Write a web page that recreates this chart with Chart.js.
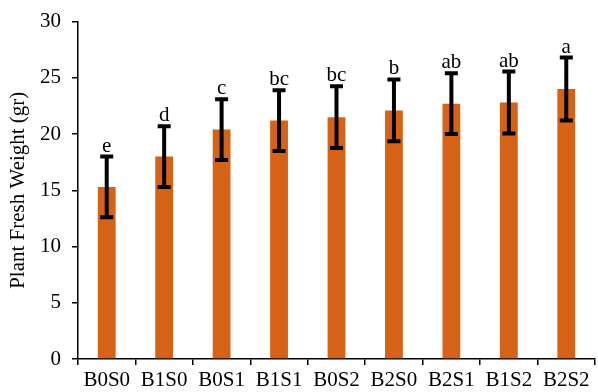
<!DOCTYPE html>
<html>
<head>
<meta charset="utf-8">
<script src="https://cdn.jsdelivr.net/npm/chart.js@4"></script>
<style>
  html, body { margin: 0; padding: 0; background: #fff; }
  #wrap { width: 598px; height: 392px; }
</style>
</head>
<body>
<div id="wrap"><canvas id="myChart" width="598" height="392"></canvas></div>
<script>
const categories = ["B0S0", "B1S0", "B0S1", "B1S1", "B0S2", "B2S0", "B2S1", "B1S2", "B2S2"];
const means = [15.3, 18.0, 20.4, 21.2, 21.5, 22.1, 22.7, 22.8, 24.0];
const errors = [2.7, 2.7, 2.7, 2.7, 2.75, 2.75, 2.7, 2.75, 2.8];
const letters = ["e", "d", "c", "bc", "bc", "b", "ab", "ab", "a"];
const yTicks = [0, 5, 10, 15, 20, 25, 30];

const serif = "'Liberation Serif', 'Times New Roman', serif";

// draws the SE bars and the significance letters on top of the bars
const errorBarPlugin = {
  id: "errorBars",
  afterDatasetsDraw(chart) {
    const ctx = chart.ctx;
    const x = chart.scales.x;
    const y = chart.scales.y;
    ctx.save();
    ctx.strokeStyle = "#000";
    ctx.lineWidth = 4;
    ctx.lineCap = "butt";
    means.forEach((m, i) => {
      const cx = x.getPixelForValue(i);
      const top = y.getPixelForValue(m + errors[i]);
      const bot = y.getPixelForValue(m - errors[i]);
      ctx.beginPath();
      ctx.moveTo(cx, top);
      ctx.lineTo(cx, bot);
      ctx.moveTo(cx - 6.5, top);
      ctx.lineTo(cx + 6.5, top);
      ctx.moveTo(cx - 6.5, bot);
      ctx.lineTo(cx + 6.5, bot);
      ctx.stroke();

      ctx.fillStyle = "#000";
      ctx.font = "21px " + serif;
      ctx.textAlign = "center";
      ctx.textBaseline = "alphabetic";
      ctx.fillText(letters[i], cx, top - 5);
    });
    ctx.restore();
  },
};

const ctx = document.getElementById("myChart").getContext("2d");
const myChart = new Chart(ctx, {
  type: "bar",
  data: {
    labels: categories,
    datasets: [
      {
        data: means,
        backgroundColor: "#D66217",
        borderWidth: 0,
        barPercentage: 0.62,
        categoryPercentage: 0.5,
      },
    ],
  },
  options: {
    responsive: false,
    animation: false,
    devicePixelRatio: 1,
    layout: { padding: { top: 21, right: 3, left: 0, bottom: 0 } },
    plugins: {
      legend: { display: false },
      tooltip: { enabled: false },
    },
    scales: {
      x: {
        grid: {
          display: true,
          drawOnChartArea: false,
          drawTicks: true,
          tickLength: 6,
          offset: true,
          color: "#000",
          lineWidth: 1.5,
        },
        border: { display: true, color: "#000", width: 1.5 },
        ticks: {
          color: "#000",
          font: { family: serif, size: 21 },
          padding: 3,
          maxRotation: 0,
          autoSkip: false,
        },
        afterFit(scale) {
          scale.height = 33;
        },
      },
      y: {
        min: 0,
        max: 30,
        afterBuildTicks(scale) {
          scale.ticks = yTicks.map((v) => ({ value: v }));
        },
        grid: {
          display: true,
          drawOnChartArea: false,
          drawTicks: true,
          tickLength: 6,
          color: "#000",
          lineWidth: 1.5,
        },
        border: { display: true, color: "#000", width: 1.5 },
        ticks: {
          color: "#000",
          font: { family: serif, size: 21, lineHeight: 1 },
          padding: 11,
        },
        title: {
          display: true,
          text: "Plant Fresh Weight (gr)",
          color: "#000",
          font: { family: serif, size: 21 },
          padding: { top: 6, bottom: 4 },
        },
        afterFit(scale) {
          scale.width = 78;
        },
      },
    },
  },
  plugins: [errorBarPlugin],
});
</script>
</body>
</html>
